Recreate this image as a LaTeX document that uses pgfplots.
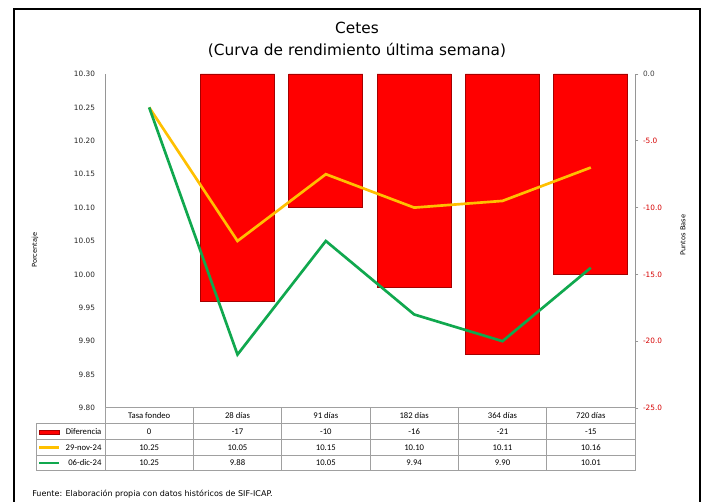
\documentclass[border=0pt]{standalone}
\usepackage{pgfplots}
\usepackage{pgfplotstable}
\pgfplotsset{compat=1.18}
\usepackage{fontspec}
\setmainfont{DejaVu Sans}
\newfontfamily\tablefont{Carlito}

\definecolor{barred}{RGB}{255,0,0}
\definecolor{baredge}{RGB}{165,0,0}
\definecolor{novyellow}{RGB}{255,192,0}
\definecolor{dicgreen}{RGB}{16,168,78}
\definecolor{axisgray}{RGB}{150,150,150}
\definecolor{gridgray}{RGB}{160,160,160}
\definecolor{labred}{RGB}{215,0,0}

% Cetes yield curve: difference in basis points and the two weekly curves
\pgfplotstableread{
idx dif nov dic
0   0   10.25 10.25
1   -17 10.05 9.88
2   -10 10.15 10.05
3   -16 10.10 9.94
4   -21 10.11 9.90
5   -15 10.16 10.01
}\cetes

\pgfplotsset{
  cetesbase/.style={
    at={(78.75pt,70.5pt)}, anchor=south west,
    width=397.5pt, height=250.5pt, scale only axis,
    xmin=-0.5, xmax=5.5,
    axis line style={draw=none},
    xtick=\empty,
  }
}

\begin{document}
\begin{tikzpicture}[x=0.75pt,y=0.75pt]
\useasboundingbox (0,0) rectangle (706,502);
\fill[white] (0,0) rectangle (706,502);
\draw[black, line width=0.9pt] (14,493) rectangle (700,-40);

% title
\node[font=\fontsize{11.5}{13}\selectfont] at (357,474) {Cetes};
\node[font=\fontsize{11.5}{13}\selectfont] at (357,452) {(Curva de rendimiento última semana)};

% bars on the secondary axis (basis points)
\begin{axis}[
  cetesbase,
  ymin=-25, ymax=0,
  ytick pos=right, yticklabel pos=right,
  ytick={-25,-20,-15,-10,-5,0},
  yticklabels={\textcolor{labred}{-25.0},\textcolor{labred}{-20.0},\textcolor{labred}{-15.0},\textcolor{labred}{-10.0},\textcolor{labred}{-5.0},0.0},
  tick align=outside, major tick length=2.5pt,
  tick style={axisgray, line width=0.5pt},
  yticklabel style={font=\fontsize{5.5}{6}\selectfont, text=black!75},
]
% the overnight rate has no change, so its (zero-height) bar is left out
\addplot[ybar, bar width=0.84, fill=barred, draw=baredge, line width=0.7pt,
  skip coords between index={0}{1}]
  table[x=idx, y=dif]{\cetes};
\end{axis}

% yield lines on the primary axis (percent)
\begin{axis}[
  cetesbase,
  ymin=9.80, ymax=10.30,
  ytick pos=left, yticklabel pos=left,
  ytick={9.80,9.85,...,10.31},
  major tick length=0pt,
  yticklabel style={font=\fontsize{5.5}{6}\selectfont, text=black!85,
    /pgf/number format/.cd, fixed, fixed zerofill, precision=2, assume math mode=true},
  yticklabel shift=4pt,
]
\addplot[novyellow, line width=2pt, no markers] table[x=idx, y=nov]{\cetes};
\addplot[dicgreen, line width=2pt, no markers] table[x=idx, y=dic]{\cetes};
\end{axis}

% vertical axis lines
\draw[axisgray, line width=0.6pt] (105,94) -- (105,428);
\draw[axisgray, line width=0.6pt] (635,78) -- (635,428);

% axis titles
\node[rotate=90, font=\fontsize{5}{6}\selectfont] at (35,252) {Porcentaje};
\node[rotate=90, font=\fontsize{5}{6}\selectfont] at (683,267) {Puntos Base};

% data table beneath the plot
\begin{scope}[gridgray, line width=0.75pt]
  \draw (105,94) -- (635,94);
  \foreach \yy in {78,62,46.5,31} \draw (36,\yy) -- (635,\yy);
  \foreach \k in {0,...,6} \draw ({105+88.333*\k},94) -- ({105+88.333*\k},31);
  \draw (36,78) -- (36,31);
\end{scope}

\begin{scope}[font=\tablefont\fontsize{6.5}{8}\selectfont, text=black]
  \foreach \lab [count=\i from 0] in {Tasa fondeo,28 días,91 días,182 días,364 días,720 días}
    \node at ({149.17+88.333*\i},86) {\lab};
  \foreach \v [count=\i from 0] in {0,-17,-10,-16,-21,-15}
    \node at ({149.17+88.333*\i},70) {\v};
  \foreach \v [count=\i from 0] in {10.25,10.05,10.15,10.10,10.11,10.16}
    \node at ({149.17+88.333*\i},54.5) {\v};
  \foreach \v [count=\i from 0] in {10.25,9.88,10.05,9.94,9.90,10.01}
    \node at ({149.17+88.333*\i},39) {\v};
  \node[anchor=east, inner sep=1pt] at (103,70) {Diferencia};
  \node[anchor=east, inner sep=1pt] at (103,54.5) {29-nov-24};
  \node[anchor=east, inner sep=1pt] at (103,39) {06-dic-24};
\end{scope}
\fill[barred, draw=baredge, line width=0.5pt] (39,68) rectangle (59,72);
\draw[novyellow, line width=2pt] (39,54.5) -- (59,54.5);
\draw[dicgreen, line width=2pt] (39,39) -- (59,39);

% source note
\node[anchor=base west, font=\fontsize{6}{7}\selectfont, inner sep=0pt] at (32,5)
  {Fuente: Elaboración propia con datos históricos de SIF-ICAP.};
\end{tikzpicture}
\end{document}
